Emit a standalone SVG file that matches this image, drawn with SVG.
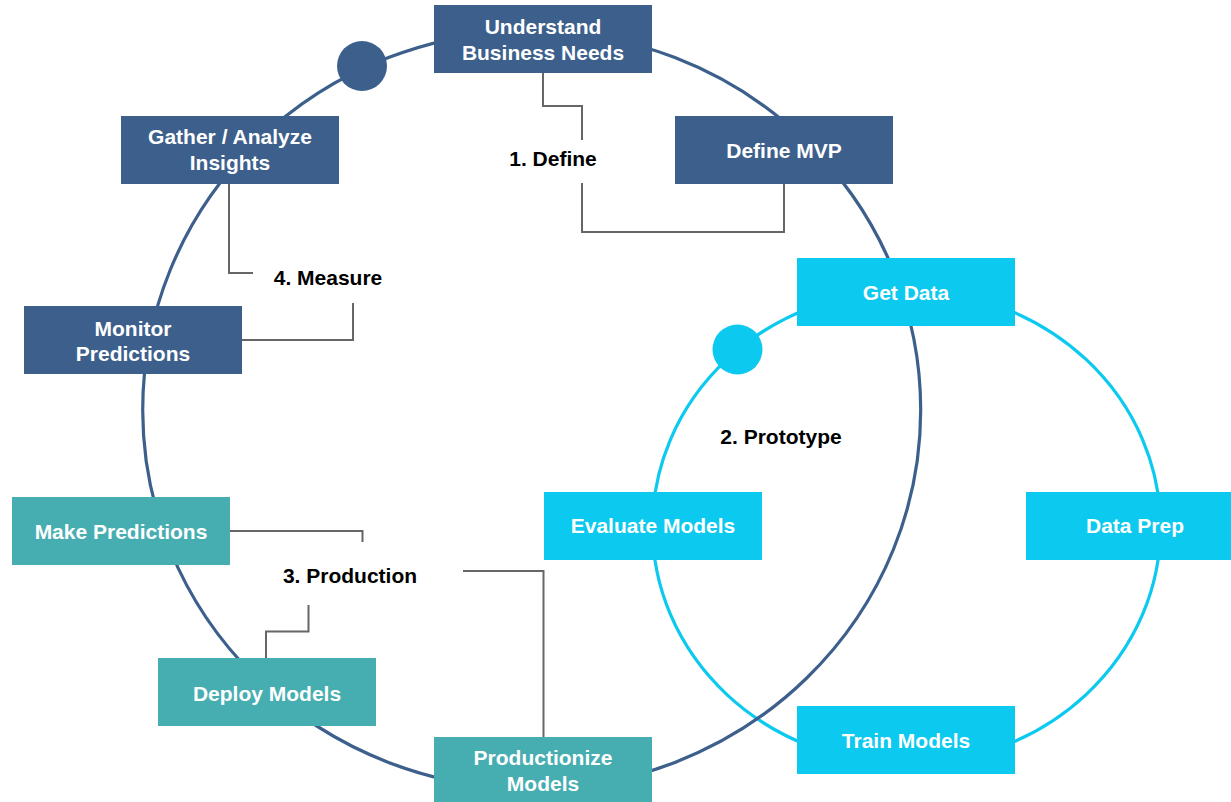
<svg xmlns="http://www.w3.org/2000/svg" width="1231" height="802" viewBox="0 0 1231 802">
<style>
.bg{fill:#ffffff}
.dk{fill:#3D5F8C}
.cy{fill:#0CC9EF}
.tl{fill:#46AEB1}
.bt{font-family:"Liberation Sans",Arial,Helvetica,sans-serif;font-size:21px;font-weight:bold;fill:#ffffff;text-anchor:middle}
.lb{font-family:"Liberation Sans",Arial,Helvetica,sans-serif;font-size:21px;font-weight:bold;fill:#000000;text-anchor:middle}
.cn{fill:none;stroke:#666666;stroke-width:2}
</style>
<rect class="bg" x="0" y="0" width="1231" height="802"/>
<g id="cycles">
<ellipse cx="906.5" cy="527" rx="254" ry="237" fill="none" stroke="#0CC9EF" stroke-width="3.2"/>
<ellipse cx="531.7" cy="410" rx="389" ry="379" fill="none" stroke="#3D5F8C" stroke-width="3.2"/>
<circle cx="362" cy="66" r="25" fill="#3D5F8C"/>
<circle cx="737.5" cy="349.5" r="25" fill="#0CC9EF"/>
</g>
<g id="connectors">
<polyline class="cn" points="543,72 543,106 582,106 582,140"/>
<polyline class="cn" points="582,183 582,232 784,232 784,183"/>
<polyline class="cn" points="229,183 229,273 253,273"/>
<polyline class="cn" points="353,303 353,340 242,340"/>
<polyline class="cn" points="230,531 362.5,531 362.5,542"/>
<polyline class="cn" points="308.5,605 308.5,631.5 266,631.5 266,658"/>
<polyline class="cn" points="463,571 543.5,571 543.5,737"/>
</g>
<g id="labels">
<text class="lb" x="553" y="166">1. Define</text>
<text class="lb" x="781" y="444">2. Prototype</text>
<text class="lb" x="350" y="583">3. Production</text>
<text class="lb" x="328" y="285">4. Measure</text>
</g>
<g id="understand"><rect class="dk" x="434" y="5" width="218" height="68"/><text class="bt" x="543" y="34">Understand</text><text class="bt" x="543" y="60">Business Needs</text></g>
<g id="define-mvp"><rect class="dk" x="675" y="116" width="218" height="68"/><text class="bt" x="784" y="158">Define MVP</text></g>
<g id="gather"><rect class="dk" x="121" y="116" width="218" height="68"/><text class="bt" x="230" y="144">Gather / Analyze</text><text class="bt" x="230" y="170">Insights</text></g>
<g id="monitor"><rect class="dk" x="24" y="306" width="218" height="68"/><text class="bt" x="133" y="336">Monitor</text><text class="bt" x="133" y="361">Predictions</text></g>
<g id="make-predictions"><rect class="tl" x="12" y="497" width="218" height="68"/><text class="bt" x="121" y="539">Make Predictions</text></g>
<g id="deploy"><rect class="tl" x="158" y="658" width="218" height="68"/><text class="bt" x="267" y="701">Deploy Models</text></g>
<g id="productionize"><rect class="tl" x="434" y="737" width="218" height="68"/><text class="bt" x="543" y="765">Productionize</text><text class="bt" x="543" y="791">Models</text></g>
<g id="get-data"><rect class="cy" x="797" y="258" width="218" height="68"/><text class="bt" x="906" y="300">Get Data</text></g>
<g id="evaluate"><rect class="cy" x="544" y="492" width="218" height="68"/><text class="bt" x="653" y="533">Evaluate Models</text></g>
<g id="data-prep"><rect class="cy" x="1026" y="492" width="218" height="68"/><text class="bt" x="1135" y="533">Data Prep</text></g>
<g id="train"><rect class="cy" x="797" y="706" width="218" height="68"/><text class="bt" x="906" y="748">Train Models</text></g>
</svg>
